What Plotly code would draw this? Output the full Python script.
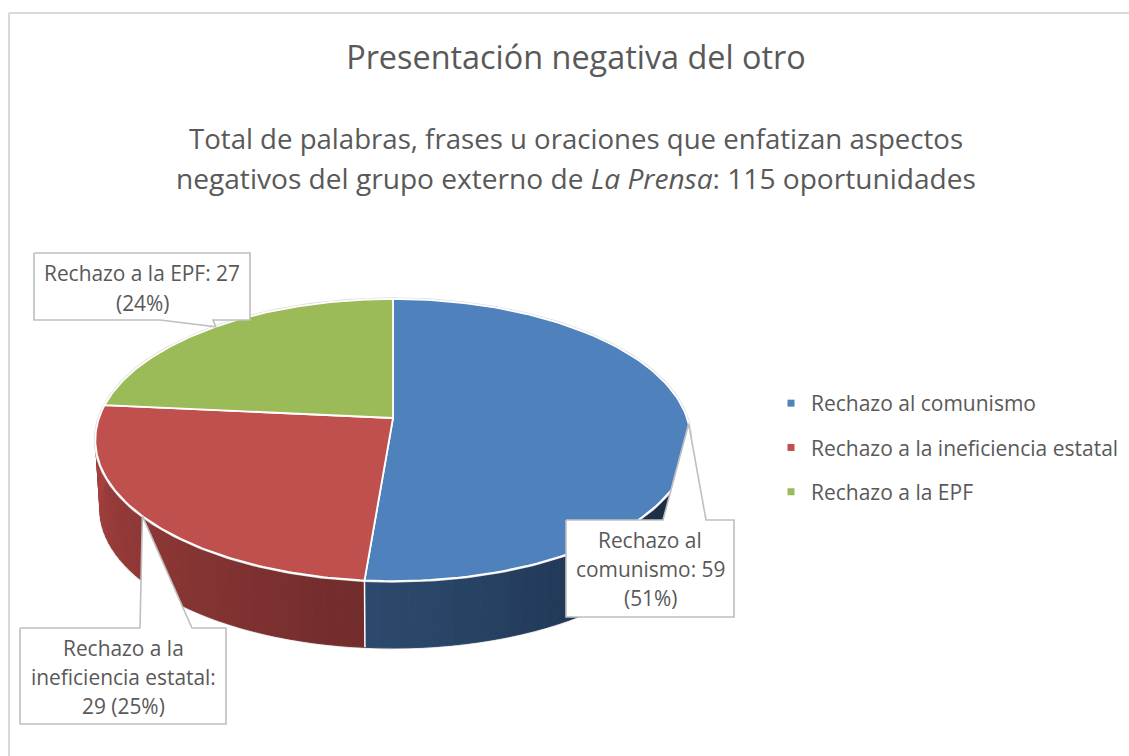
import numpy as np
import plotly.graph_objects as go

# ---- data ----
categories = ["Rechazo al comunismo", "Rechazo a la ineficiencia estatal", "Rechazo a la EPF"]
values = [59, 29, 27]
percent_labels = ["51%", "25%", "24%"]
top_colors = ["#4F81BD", "#C0504D", "#9BBB59"]
title_text = "Presentación negativa del otro"
subtitle_lines = [
    "Total de palabras, frases u oraciones que enfatizan aspectos",
    "negativos del grupo externo de <i>La Prensa</i>: 115 oportunidades",
]
label_lines = [
    ["Rechazo al", "comunismo: 59", "(51%)"],
    ["Rechazo a la", "ineficiencia estatal:", "29 (25%)"],
    ["Rechazo a la EPF: 27", "(24%)"],
]

# ---- layout / projection settings (pixel-like plot scale) ----
W, H = 1129, 756
CX, K = 393, 0.156
TOP = dict(X=294.0, Y0=418.0, Y=137.6)
BOT = dict(X=289.5, Y0=487.3, Y=135.6)
TEXT = "#595959"
FONT = "Open Sans"
BOXES = [  # x0, x1, y0, y1, wedge base left, wedge base right, wedge edge
    (566, 734, 520, 617, 663, 706, "top"),
    (20, 226, 628, 724, 140, 192, "top"),
    (34, 250, 253, 320, 160, 213, "bottom"),
]
LABEL_CY = [(650, [540, 569, 598]), (123, [648, 677, 706]), (142, [273, 303])]


def project(theta_deg, p):
    t = np.radians(theta_deg)
    u, v = np.sin(t), np.cos(t)
    w = 1 + K * v
    return CX + p["X"] * u / w, p["Y0"] - p["Y"] * v / w


def mix(a, b, f):
    c = [a[i] + (b[i] - a[i]) * f for i in range(3)]
    return f"rgb({c[0]:.0f},{c[1]:.0f},{c[2]:.0f})"


total = sum(values)
edges = np.concatenate([[0], np.cumsum(values)]) / total * 360.0
mids = (edges[:-1] + edges[1:]) / 2

fig = go.Figure()


def poly(xs, ys, fill=None, line="rgba(0,0,0,0)", width=0, closed=True):
    fig.add_trace(go.Scatter(
        x=list(xs), y=list(ys), mode="lines",
        fill="toself" if closed else None,
        fillcolor=fill, line=dict(color=line, width=width),
        hoverinfo="skip", showlegend=False))


# side wall: faint outer outline then shaded strips
th = np.linspace(75, 285, 200)
bx, by = project(th, BOT)
poly(bx, by, line="#d6d6d6", width=2.5, closed=False)

wall_specs = [
    (75, edges[1], (27, 47, 73), (44, 74, 110), lambda a: min(1, max(0, (a - 125) / (edges[1] - 125)))),
    (edges[1], 285, (112, 44, 43), (166, 65, 63), lambda a: min(1, (a - edges[1]) / (268 - edges[1]))),
]
for a0, a1, c0, c1, ff in wall_specs:
    steps = np.linspace(a0, a1, 46)
    for s0, s1 in zip(steps[:-1], steps[1:]):
        tt = np.array([s0, s1])
        x0, y0 = project(tt, TOP)
        x1, y1 = project(tt, BOT)
        col = mix(c0, c1, ff((s0 + s1) / 2))
        poly([x0[0], x0[1], x1[1], x1[0], x0[0]], [y0[0], y0[1], y1[1], y1[0], y0[0]],
             fill=col, line=col, width=1)

# seam between blue and red on the wall
sx0, sy0 = project(edges[1], TOP)
sx1, sy1 = project(edges[1], BOT)
poly([sx0, sx1], [sy0, sy1], line="white", width=1.5, closed=False)

# faint rim, then top slices
th = np.linspace(0, 360, 361)
rx, ry = project(th, TOP)
poly(rx, ry, line="#dcdcdc", width=3.2, closed=False)
for i, c in enumerate(top_colors):
    th = np.linspace(edges[i], edges[i + 1], 120)
    ax, ay = project(th, TOP)
    poly(np.r_[CX, ax, CX], np.r_[TOP["Y0"], ay, TOP["Y0"]], fill=c, line="white", width=1.8)

# data-label callouts; the tip sits on the slice's mid-angle on the rim
for i, (x0, x1, y0, y1, bl, br, side) in enumerate(BOXES):
    tx, ty = project(mids[i], TOP)
    if side == "top":
        xs = [x0, bl, tx, br, x1, x1, x0, x0]
        ys = [y0, y0, ty, y0, y0, y1, y1, y0]
    else:
        xs = [x0, x1, x1, br, tx, bl, x0, x0]
        ys = [y0, y0, y1, y1, ty, y1, y1, y0]
    poly(xs, ys, fill="white", line="#bfbfbf", width=1.6)

# legend
for name, c in zip(categories, top_colors):
    fig.add_trace(go.Scatter(
        x=[None], y=[None], mode="markers", name=name, legendgroup=name,
        marker=dict(symbol="square", size=7, color=c)))

annotations = []
for y, line, size in zip([138, 178], subtitle_lines, [27.6, 28.1]):
    annotations.append(dict(x=576, y=y, xref="x", yref="y", text=line, showarrow=False,
                            font=dict(family=FONT, size=size, color=TEXT),
                            xanchor="center", yanchor="middle"))
for lines, (cx, ys) in zip(label_lines, LABEL_CY):
    for line, y in zip(lines, ys):
        annotations.append(dict(x=cx, y=y, xref="x", yref="y", text=line, showarrow=False,
                                font=dict(family=FONT, size=20.9, color=TEXT),
                                xanchor="center", yanchor="middle"))

fig.update_layout(
    width=W, height=H, autosize=False,
    margin=dict(l=0, r=0, t=0, b=0),
    paper_bgcolor="white", plot_bgcolor="white",
    font=dict(family=FONT, color=TEXT),
    title=dict(text=title_text, x=576 / W, xanchor="center", xref="paper",
               y=1 - 58 / H, yref="paper", yanchor="middle",
               font=dict(family=FONT, size=32.4, color=TEXT)),
    xaxis=dict(range=[0, W], visible=False, fixedrange=True),
    yaxis=dict(range=[H, 0], visible=False, fixedrange=True),
    legend=dict(x=771 / W, y=1 - 383 / H, xanchor="left", yanchor="top",
                font=dict(family=FONT, size=21, color=TEXT),
                tracegroupgap=14, itemwidth=30, bgcolor="rgba(0,0,0,0)"),
    annotations=annotations,
    shapes=[
        dict(type="line", xref="x", yref="y", x0=9, x1=9, y0=13, y1=H,
             line=dict(color="#d9d9d9", width=2)),
        dict(type="line", xref="x", yref="y", x0=9, x1=W, y0=13, y1=13,
             line=dict(color="#d9d9d9", width=2)),
    ],
)

fig.write_html("out.html", config={"displayModeBar": False},
               post_script="document.body.style.margin='0';document.body.style.overflow='hidden';")
